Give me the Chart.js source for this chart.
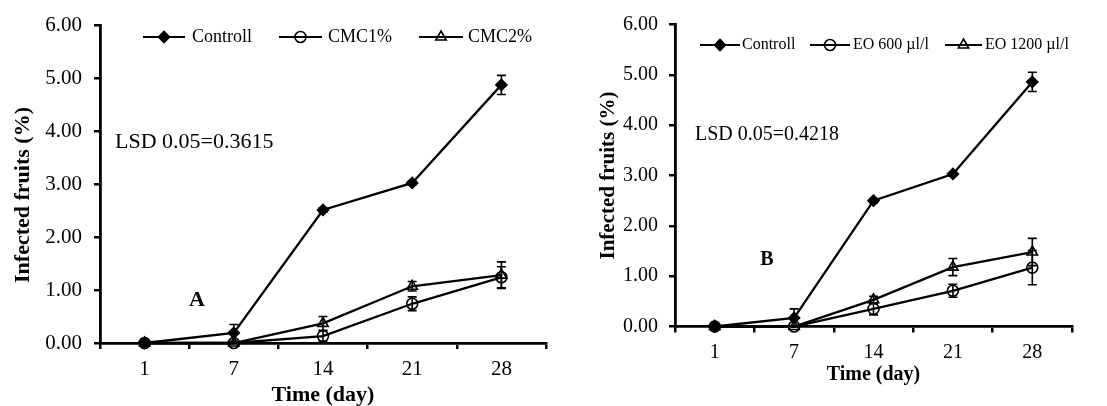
<!DOCTYPE html>
<html><head><meta charset="utf-8">
<script src="https://cdn.jsdelivr.net/npm/chart.js@4.4.0/dist/chart.umd.min.js"></script>
<style>
html,body{margin:0;padding:0;background:#fff;overflow:hidden;width:1107px;height:406px}
canvas{position:absolute;top:0}
#cA{left:0}
#cB{left:560px}
</style></head>
<body>
<canvas id="cA" width="560" height="420"></canvas>
<canvas id="cB" width="547" height="420"></canvas>
<script>
// ---- data ----
const days = ['1', '7', '14', '21', '28'];
const yTickLabels = ['0.00', '1.00', '2.00', '3.00', '4.00', '5.00', '6.00'];

// Panel A
const controlA = [0, 0.19, 2.51, 3.02, 4.87];
const controlAErr = [0, 0.16, 0.04, 0.03, 0.18];
const cmc1 = [0, 0, 0.13, 0.74, 1.24];
const cmc1Err = [0, 0, 0.10, 0.13, 0.20];
const cmc2 = [0, 0, 0.37, 1.07, 1.28];
const cmc2Err = [0, 0, 0.13, 0.09, 0.25];

// Panel B
const controlB = [0, 0.17, 2.50, 3.03, 4.86];
const controlBErr = [0, 0.18, 0.04, 0.03, 0.19];
const eo600 = [0, 0, 0.35, 0.71, 1.17];
const eo600Err = [0, 0, 0.12, 0.13, 0.34];
const eo1200 = [0, 0, 0.53, 1.18, 1.48];
const eo1200Err = [0, 0, 0.07, 0.17, 0.27];

Chart.defaults.font.family = "'Liberation Serif', 'Times New Roman', serif";
Chart.defaults.color = '#000';

const errorBarsPlugin = {
  id: 'errorBars',
  afterDatasetsDraw(chart) {
    const ctx = chart.ctx, ys = chart.scales.y;
    chart.data.datasets.forEach((ds, i) => {
      const meta = chart.getDatasetMeta(i);
      const errs = ds.errors || [];
      meta.data.forEach((pt, j) => {
        const e = errs[j];
        if (!e) return;
        const v = ds.data[j];
        const yt = ys.getPixelForValue(v + e), yb = ys.getPixelForValue(v - e);
        ctx.save();
        ctx.strokeStyle = '#000'; ctx.lineWidth = 1.6;
        ctx.beginPath();
        ctx.moveTo(pt.x, yt); ctx.lineTo(pt.x, yb);
        ctx.moveTo(pt.x - 4.5, yt); ctx.lineTo(pt.x + 4.5, yt);
        ctx.moveTo(pt.x - 4.5, yb); ctx.lineTo(pt.x + 4.5, yb);
        ctx.stroke();
        ctx.restore();
      });
    });
  }
};

const lineLegendPlugin = {
  id: 'lineLegend',
  afterDraw(chart, args, opts) {
    const ctx = chart.ctx;
    opts.items.forEach((it, i) => {
      const ds = chart.data.datasets[i];
      ctx.save();
      ctx.strokeStyle = '#000'; ctx.lineWidth = 2.2;
      ctx.beginPath(); ctx.moveTo(it.x1, opts.y); ctx.lineTo(it.x2, opts.y); ctx.stroke();
      ctx.fillStyle = ds.pointBackgroundColor;
      ctx.lineWidth = ds.pointBorderWidth;
      Chart.helpers.drawPoint(ctx, {pointStyle: ds.pointStyle, radius: ds.pointRadius, borderWidth: ds.pointBorderWidth, rotation: 0}, (it.x1 + it.x2) / 2, opts.y);
      ctx.fillStyle = '#000';
      ctx.font = opts.size + "px 'Liberation Serif'";
      ctx.textBaseline = 'middle'; ctx.textAlign = 'left';
      ctx.fillText(ds.label, it.tx, opts.y);
      ctx.restore();
    });
  }
};

const notesPlugin = {
  id: 'notes',
  afterDraw(chart, args, opts) {
    const ctx = chart.ctx;
    opts.items.forEach(n => {
      ctx.save();
      ctx.fillStyle = '#000';
      ctx.font = (n.bold ? 'bold ' : '') + n.size + "px 'Liberation Serif'";
      ctx.textBaseline = 'middle'; ctx.textAlign = n.align;
      ctx.fillText(n.text, n.x, n.y);
      ctx.restore();
    });
  }
};

function ds(label, data, errs, style, fill, radius) {
  return {
    label, data, errors: errs,
    borderColor: '#000', borderWidth: 2.3, tension: 0,
    pointStyle: style, pointRadius: radius, pointHoverRadius: radius,
    pointBackgroundColor: fill, pointBorderColor: '#000', pointBorderWidth: 1.6,
    clip: false, fill: false
  };
}

function makeChart(id, datasets, cfg) {
  return new Chart(document.getElementById(id), {
    type: 'line',
    data: { labels: days, datasets },
    plugins: [errorBarsPlugin, lineLegendPlugin, notesPlugin],
    options: {
      responsive: false, animation: false, devicePixelRatio: 1,
      layout: { padding: cfg.padding },
      plugins: {
        legend: { display: false }, tooltip: { enabled: false },
        lineLegend: cfg.legend,
        notes: { items: cfg.notes }
      },
      scales: {
        x: {
          type: 'category', offset: true,
          grid: { offset: true, drawOnChartArea: false, drawTicks: true, tickLength: 6, color: '#000', lineWidth: 2.5 },
          border: { display: true, color: '#000', width: 2.8 },
          ticks: { font: { size: cfg.tickSize }, padding: cfg.xTickPad, color: '#000', maxRotation: 0 },
          title: { display: true, text: 'Time (day)', font: { size: cfg.xTitleSize, weight: 'bold' }, padding: { top: 0, bottom: cfg.xTitlePad }, color: '#000' },
          afterFit(s) { s.height = cfg.xHeight; }
        },
        y: {
          min: 0, max: 6,
          grid: { drawOnChartArea: false, drawTicks: true, tickLength: 6, color: '#000', lineWidth: 2.5 },
          border: { display: true, color: '#000', width: 2.8 },
          ticks: { stepSize: 1, font: { size: cfg.tickSize }, padding: cfg.yTickPad, color: '#000',
                   callback: (v) => yTickLabels[Math.round(v)] },
          title: { display: true, text: cfg.yTitle, font: { size: cfg.yTitleSize, weight: 'bold' }, padding: { top: cfg.yTitlePad, bottom: 0 }, color: '#000' },
          afterFit(s) { s.width = cfg.yWidth; }
        }
      }
    }
  });
}

makeChart('cA', [
  ds('Controll', controlA, controlAErr, 'rectRot', '#000', 5.5),
  ds('CMC1%', cmc1, cmc1Err, 'circle', 'rgba(0,0,0,0)', 5.5),
  ds('CMC2%', cmc2, cmc2Err, 'triangle', 'rgba(0,0,0,0)', 6)
], {
  padding: { left: 0, top: 25, right: 14, bottom: 0 },
  yWidth: 100, xHeight: 77,
  tickSize: 21, xTickPad: 8, yTickPad: 12,
  xTitleSize: 22, xTitlePad: 11,
  yTitle: 'Infected fruits (%)    ', yTitleSize: 22, yTitlePad: 10,
  legend: { y: 37, size: 18, items: [ {x1: 143, x2: 185, tx: 192}, {x1: 279, x2: 322, tx: 328}, {x1: 419, x2: 463, tx: 468} ] },
  notes: [
    { text: 'LSD 0.05=0.3615', x: 115, y: 142, size: 22, align: 'left' },
    { text: 'A', x: 197, y: 300, size: 22, bold: true, align: 'center' }
  ]
});

makeChart('cB', [
  ds('Controll', controlB, controlBErr, 'rectRot', '#000', 5.5),
  ds('EO 600 µl/l', eo600, eo600Err, 'circle', 'rgba(0,0,0,0)', 5.5),
  ds('EO 1200 µl/l', eo1200, eo1200Err, 'triangle', 'rgba(0,0,0,0)', 6)
], {
  padding: { left: 0, top: 24.5, right: 35, bottom: 0 },
  yWidth: 115, xHeight: 93.5,
  tickSize: 20, xTickPad: 8, yTickPad: 11,
  xTitleSize: 20, xTitlePad: 33,
  yTitle: 'Infected fruits (%)', yTitleSize: 21, yTitlePad: 36,
  legend: { y: 45, size: 16, items: [ {x1: 140, x2: 180, tx: 182}, {x1: 250, x2: 290, tx: 293}, {x1: 385, x2: 422, tx: 425} ] },
  notes: [
    { text: 'LSD 0.05=0.4218', x: 135, y: 135, size: 20, align: 'left' },
    { text: 'B', x: 207, y: 260, size: 20, bold: true, align: 'center' }
  ]
});
</script>
</body></html>
